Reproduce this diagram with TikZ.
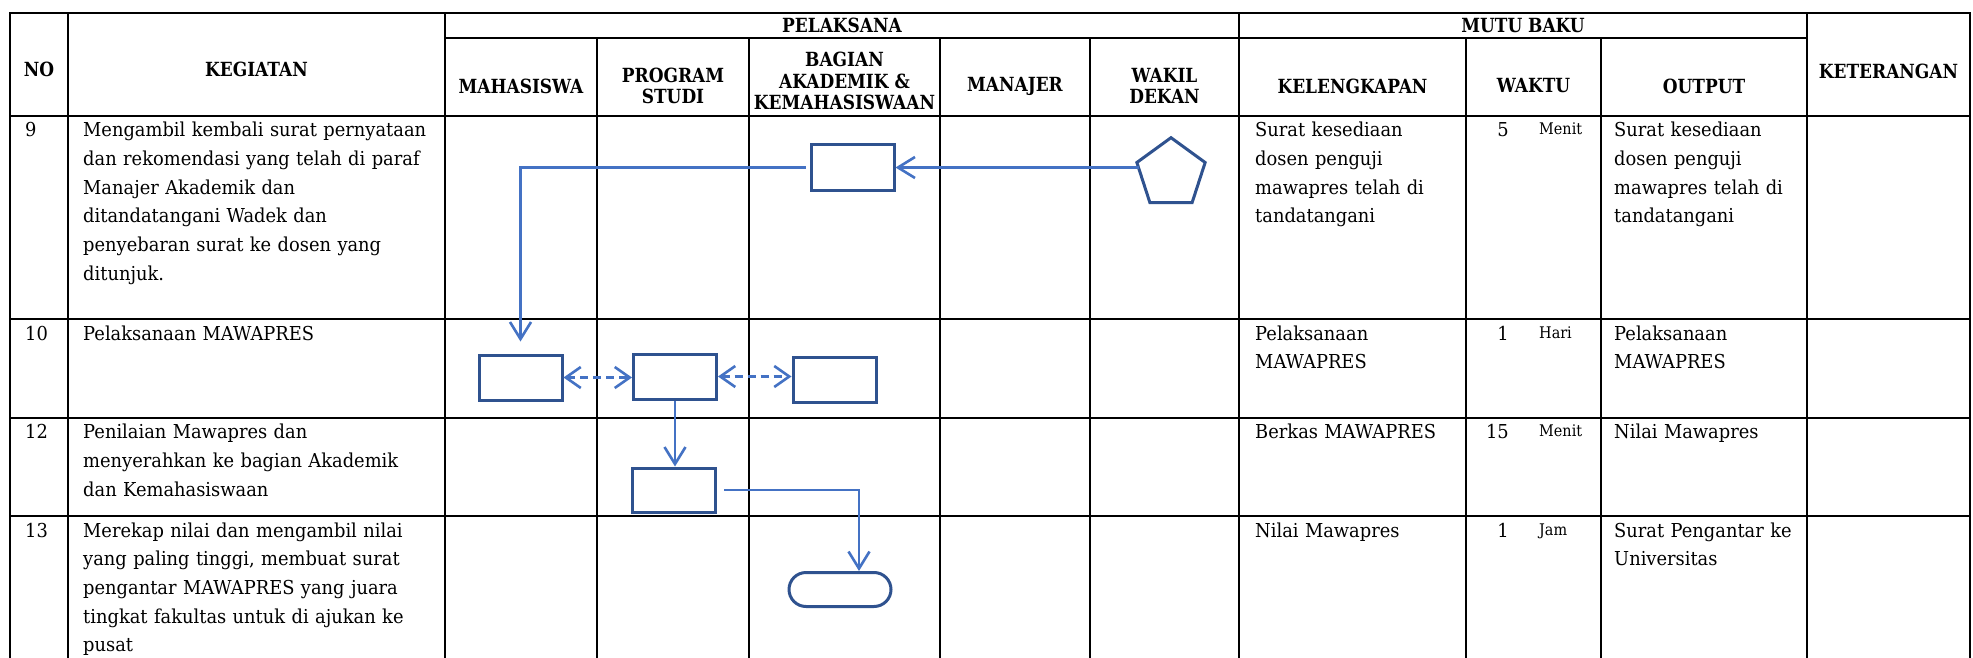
\documentclass[tikz,border=0pt]{standalone}
\usepackage{fontspec}
\setmainfont{DejaVu Serif}[FakeStretch=0.93]
\newfontfamily\hdrfont{DejaVu Serif}[FakeStretch=0.87]
\newfontfamily\unitfont{DejaVu Serif}[FakeStretch=0.9]
\usetikzlibrary{arrows.meta,shapes.geometric,shapes.misc}
\definecolor{boxblue}{RGB}{47,82,143}
\definecolor{linkblue}{RGB}{68,114,196}
\begin{document}
\begin{tikzpicture}[x=1pt,y=-1pt,
  grid/.style={line width=2.5pt, black, line cap=rect},
  hdr/.style={font=\hdrfont\bfseries\fontsize{19.5}{21.5}\selectfont, align=center, inner sep=0pt},
  body/.style={font=\fontsize{19.2}{28.7}\selectfont, anchor=north west, inner sep=0pt, text width=380pt, align=left, execute at begin node={\strut}},
  num/.style={font=\fontsize{19.2}{28.7}\selectfont, anchor=base east, inner sep=0pt},
  nolbl/.style={font=\fontsize{19.2}{28.7}\selectfont, anchor=base west, inner sep=0pt},
  unit/.style={font=\unitfont\fontsize{16}{18}\selectfont, anchor=base west, inner sep=0pt},
  proc/.style={draw=boxblue, line width=3pt, rectangle, inner sep=0pt, minimum width=83pt, minimum height=45pt},
  conn/.style={draw=linkblue, line width=2.6pt, -{Straight Barb[length=17pt,width=21pt]}},
  dconn/.style={draw=linkblue, line width=2.6pt, dash pattern=on 8pt off 5pt, {Straight Barb[length=15pt,width=21pt]}-{Straight Barb[length=15pt,width=21pt]}},
]
\useasboundingbox (0,0) rectangle (1973,658);
\fill[white] (0,0) rectangle (1973,658);

% ---------- table grid ----------
\foreach \yy in {13,116,319,418,516} \draw[grid] (10,\yy) -- (1970,\yy);
\draw[grid] (445,38) -- (1807,38);
\foreach \xx in {10,68,445,1239,1807,1970} \draw[grid] (\xx,13) -- (\xx,662);
\foreach \xx in {597,749,940,1090,1466,1601} \draw[grid] (\xx,38) -- (\xx,662);

% ---------- header ----------
\node[hdr] (hno) at (39,69) {NO};
\node[hdr] (hkeg) at (256.5,69) {KEGIATAN};
\node[hdr] (hpel) at (842,25.5) {PELAKSANA};
\node[hdr] (hmutu) at (1523,25.5) {MUTU BAKU};
\node[hdr] (hmhs) at (521,86.7) {MAHASISWA};
\node[hdr] (hps) at (673,86) {PROGRAM\\STUDI};
\node[hdr] (hbag) at (844.5,81) {BAGIAN\\AKADEMIK \&\\KEMAHASISWAAN};
\node[hdr] (hman) at (1015,86.7) {MANAJER};
\node[hdr] (hwd) at (1164.5,86) {WAKIL\\DEKAN};
\node[hdr] (hkel) at (1352.5,86) {KELENGKAPAN};
\node[hdr] (hwak) at (1533.5,86) {WAKTU};
\node[hdr] (hout) at (1704,86) {OUTPUT};
\node[hdr] (hket) at (1888.5,71.7) {KETERANGAN};

% ---------- row 9 ----------
\node[nolbl] (no9) at (25,136.5) {9};
\node[body] (keg9) at (83,116.4) {Mengambil kembali surat pernyataan\\dan rekomendasi yang telah di paraf\\Manajer Akademik dan\\ditandatangani Wadek dan\\penyebaran surat ke dosen yang\\ditunjuk.};
\node[body, text width=210pt] (kel9) at (1255,116.4) {Surat kesediaan\\dosen penguji\\mawapres telah di\\tandatangani};
\node[num] (wn9) at (1509,136.5) {5};
\node[unit] (wu9) at (1539,134.5) {Menit};
\node[body, text width=190pt] (out9) at (1614,116.4) {Surat kesediaan\\dosen penguji\\mawapres telah di\\tandatangani};

% ---------- row 10 ----------
\node[nolbl] (no10) at (25,340) {10};
\node[body] (keg10) at (83,319.9) {Pelaksanaan MAWAPRES};
\node[body, text width=210pt] (kel10) at (1255,319.9) {Pelaksanaan\\MAWAPRES};
\node[num] (wn10) at (1509,340) {1};
\node[unit] (wu10) at (1539,338) {Hari};
\node[body, text width=190pt] (out10) at (1614,319.9) {Pelaksanaan\\MAWAPRES};

% ---------- row 12 ----------
\node[nolbl] (no12) at (25,438.5) {12};
\node[body] (keg12) at (83,418.4) {Penilaian Mawapres dan\\menyerahkan ke bagian Akademik\\dan Kemahasiswaan};
\node[body, text width=210pt] (kel12) at (1255,418.4) {Berkas MAWAPRES};
\node[num] (wn12) at (1509,438.5) {15};
\node[unit] (wu12) at (1539,436.5) {Menit};
\node[body, text width=190pt] (out12) at (1614,418.4) {Nilai Mawapres};

% ---------- row 13 ----------
\node[nolbl] (no13) at (25,537) {13};
\node[body] (keg13) at (83,516.9) {Merekap nilai dan mengambil nilai\\yang paling tinggi, membuat surat\\pengantar MAWAPRES yang juara\\tingkat fakultas untuk di ajukan ke\\pusat};
\node[body, text width=210pt] (kel13) at (1255,516.9) {Nilai Mawapres};
\node[num] (wn13) at (1509,537) {1};
\node[unit] (wu13) at (1539,535) {Jam};
\node[body, text width=190pt] (out13) at (1614,516.9) {Surat Pengantar ke\\Universitas};

% ---------- flow shapes ----------
\node[proc] (b9) at (852.5,167.5) {};
\node[draw=boxblue, line width=3pt, regular polygon, regular polygon sides=5, minimum size=71.8pt, inner sep=0pt] (wd9) at (1171,173.6) {};
\node[proc] (m10) at (520.5,377.5) {};
\node[proc] (p10) at (675,376.5) {};
\node[proc] (a10) at (834.5,379.5) {};
\node[proc, minimum height=44pt] (p12) at (674,490) {};
\node[draw=boxblue, line width=3pt, rounded rectangle, minimum width=102pt, minimum height=34pt, inner sep=0pt] (a13) at (840,589.5) {};

% ---------- connectors ----------
\draw[conn] (wd9.west |- b9.east) -- (b9.east);
\draw[conn, shorten <=4pt, shorten >=12pt] (b9.west) -| (m10.north);
\draw[dconn] (m10.east) -- (m10.east -| p10.west);
\draw[dconn] (p10.east) -- (p10.east -| a10.west);
\draw[conn] (p10.south) -- (p10.south |- p12.north);
\draw[conn, shorten <=7pt] (p12.east) -| ([xshift=19pt]a13.north);
\end{tikzpicture}
\end{document}
